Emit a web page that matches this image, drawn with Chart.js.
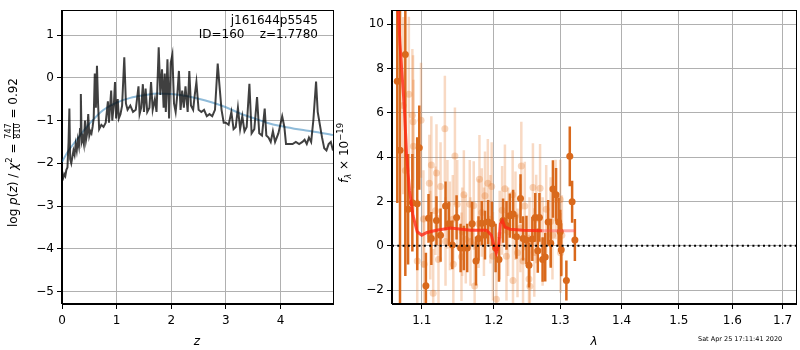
<!DOCTYPE html>
<html>
<head>
<meta charset="utf-8">
<script src="https://cdn.jsdelivr.net/npm/chart.js@4/dist/chart.umd.min.js"></script>
<style>
  body { margin: 0; background: #fff; }
  #wrap { position: relative; width: 800px; height: 350px; font-family: 'DejaVu Sans', sans-serif; color: #000; }
  canvas { position: absolute; top: 0; }
  .lbl { position: absolute; white-space: pre; font-size: 12px; line-height: 14px; font-weight: normal; }
  .rot { transform-origin: 0 0; transform: rotate(-90deg); }
  .ctr { transform: translate(-50%, -50%); }
  .frac { display: inline-block; vertical-align: middle; font-size: 8px; line-height: 8px; text-align: center; margin: 0 1px; }
  .frac span { display: block; }
  .frac span:first-child { border-bottom: 1px solid #000; }
  sup, sub { font-size: 8.5px; line-height: 0; }
</style>
</head>
<body>
<div id="wrap">
  <canvas id="chartPz" width="340" height="350" style="left:0"></canvas>
  <canvas id="chartSpec" width="460" height="350" style="left:340px"></canvas>

  <div class="lbl rot" data-cx="13" data-cy="152">log <i>p</i>(<i>z</i>) / <i>χ</i><sup>2</sup> = <span class="frac"><span>747</span><span>810</span></span> = 0.92</div>
  <div class="lbl ctr" style="left:197px; top:341px"><i>z</i></div>
  <div class="lbl" style="right:482px; top:13px; text-align:right">j161644p5545</div>
  <div class="lbl" style="right:482px; top:27px; text-align:right">ID=160    z=1.7780</div>

  <div class="lbl rot" data-cx="344" data-cy="153"><i>f</i><sub><i>λ</i></sub> × 10<sup>−19</sup></div>
  <div class="lbl ctr" style="left:594px; top:341px"><i>λ</i></div>
  <div class="lbl" style="left:698px; top:335px; font-size:6.5px; line-height:8px">Sat Apr 25 17:11:41 2020</div>
</div>

<script>
// Data p(z) (panel kiri)
const zPdf = [0.00,0.02,0.04,0.06,0.08,0.10,0.12,0.135,0.15,0.17,0.19,0.21,0.23,0.25,0.27,0.29,0.31,0.33,0.345,0.36,
  0.38,0.40,0.42,0.44,0.46,0.48,0.50,0.52,0.54,0.56,0.58,0.60,0.62,0.64,0.66,0.68,0.72,0.76,0.80,0.84,
  0.86,0.90,0.92,0.95,0.97,0.99,1.02,1.04,1.07,1.10,1.14,1.17,1.20,1.25,1.30,1.35,1.40,1.42,1.45,1.48,
  1.50,1.53,1.56,1.60,1.63,1.66,1.70,1.73,1.77,1.80,1.83,1.86,1.88,1.90,1.93,1.96,1.99,2.02,2.05,2.08,
  2.11,2.14,2.17,2.20,2.23,2.26,2.30,2.33,2.36,2.40,2.43,2.46,2.50,2.55,2.60,2.65,2.70,2.75,2.80,2.85,
  2.88,2.92,2.96,3.00,3.05,3.10,3.14,3.18,3.22,3.26,3.30,3.34,3.38,3.43,3.47,3.52,3.57,3.61,3.66,3.71,
  3.74,3.78,3.82,3.86,3.90,3.96,4.03,4.07,4.10,4.16,4.22,4.28,4.34,4.40,4.44,4.48,4.52,4.56,4.60,4.65,
  4.68,4.72,4.76,4.80,4.84,4.88,4.92,4.96];
const logPz = [-2.30,-2.35,-2.25,-2.30,-2.15,-2.10,-1.50,-0.72,-1.90,-2.00,-1.85,-1.70,-1.80,-1.55,-1.70,-1.45,-1.60,-1.20,-0.38,-1.50,
  -1.40,-1.55,-1.00,-1.45,-1.30,-0.85,-1.35,-1.25,-1.30,-1.15,-0.95,0.10,-0.70,0.28,-0.60,-1.20,-1.10,-1.15,-1.05,-0.55,
  -1.05,-0.30,-1.00,-0.60,-0.10,-0.95,-0.50,-0.95,-0.85,-0.65,0.48,-0.60,-0.75,-0.65,-0.80,-0.75,-0.20,-0.85,-0.70,-0.15,
  -0.80,-0.25,-0.80,-0.70,-0.10,-0.75,-0.50,-0.80,0.71,-0.40,0.20,-0.70,0.10,-0.80,0.43,-0.95,0.35,0.54,-0.60,-0.80,
  -0.40,0.16,-0.75,-0.30,-0.70,-0.20,-0.80,0.16,-0.65,-0.75,-0.40,-0.10,-0.75,-0.80,-0.75,-0.90,-0.85,-0.90,-0.75,0.33,
  -0.15,-0.75,-1.05,-1.05,-1.10,-0.80,-1.20,-1.15,-0.70,-1.20,-0.90,-1.25,-1.15,-0.14,-1.30,-1.20,-0.45,-1.30,-1.35,-0.72,
  -1.35,-1.40,-1.50,-1.25,-1.50,-1.30,-0.90,-1.15,-1.55,-1.55,-1.55,-1.50,-1.55,-1.50,-1.45,-1.55,-1.40,-1.50,-1.00,-0.09,
  -0.80,-1.10,-1.40,-1.65,-1.70,-1.55,-1.50,-1.70];

// Kurva prior yang halus (biru)
const zPrior = [0,0.1,0.25,0.5,0.75,1.0,1.25,1.5,1.75,2.0,2.25,2.5,2.75,3.0,3.25,3.5,3.75,4.0,4.25,4.5,4.75,4.96];
const logPrior = [-1.97,-1.74,-1.48,-1.08,-0.76,-0.58,-0.47,-0.41,-0.37,-0.38,-0.42,-0.49,-0.58,-0.69,-0.83,-0.94,-1.05,-1.13,-1.19,-1.24,-1.29,-1.34];

const zTicks = [0, 1, 2, 3, 4];
const pzTicks = [-5, -4, -3, -2, -1, 0, 1];

// Data spektrum (panel kanan)
const darkLam = [1.068,1.0715,1.0784,1.082,1.0876,1.094,1.0967,1.1055,1.109,1.1128,1.1197,1.1252,1.132,1.1366,1.1413,1.1472,1.1528,1.1573,
  1.162,1.1689,1.1744,1.178,1.1826,1.1872,1.1917,1.1972,1.2025,1.2074,1.2134,1.2184,1.2233,1.2282,1.2332,1.2392,1.243,1.2481,
  1.2519,1.257,1.2614,1.2653,1.2678,1.2727,1.2767,1.2812,1.2852,1.2886,1.2935,1.2975,1.30,1.3016,1.3097,1.3151,1.3188,1.3232];
const darkFlux = [7.43,4.31,8.64,1.65,1.94,1.90,4.43,-1.81,1.24,0.33,1.14,0.48,1.80,0.99,0.04,1.28,-0.10,-0.10,
  -0.10,0.99,-0.69,0.33,1.02,0.48,1.07,0.99,-0.10,-0.62,1.14,0.92,1.36,1.43,0.41,2.13,0.33,0.26,
  -0.88,0.31,1.28,-0.22,1.28,-0.62,-0.51,1.07,0.11,2.56,2.31,1.07,0.63,-0.18,-1.57,4.04,1.99,0.26];
const darkErr = [5.5,7.0,10.0,2.5,2.2,3.0,1.9,1.5,1.1,1.2,1.1,1.2,1.1,1.0,1.1,1.0,1.1,1.0,
  1.1,1.0,1.1,1.0,1.0,1.1,1.0,1.0,1.1,1.0,1.0,1.1,1.0,1.1,1.0,1.1,1.0,1.1,
  1.0,1.0,1.1,1.0,1.1,1.0,1.1,1.0,1.1,1.3,1.2,1.1,1.0,1.2,0.9,1.35,0.95,0.95];

const lightLam = [1.0757,1.0784,1.0830,1.0876,1.0885,1.0890,1.094,1.099,1.1022,1.1032,1.1101,1.1114,1.1128,1.1153,1.1183,1.1197,
  1.1224,1.1252,1.1311,1.132,1.1346,1.1380,1.1420,1.1427,1.1449,1.1481,1.1540,1.155,1.1573,1.1600,1.1656,1.1666,1.1712,1.1725,
  1.1780,1.1793,1.1826,1.1857,1.1872,1.1913,1.1950,1.1968,1.1986,1.2036,1.2084,1.2120,1.2161,1.2184,1.2208,1.2275,1.2280,
  1.2317,1.2347,1.2390,1.2404,1.243,1.2456,1.2519,1.2527,1.2532,1.2579,1.2600,1.2629,1.2688,1.2727,1.2782,1.2850,1.2879,
  1.2928,1.30,1.3005,1.3026];
const lightFlux = [6.33,3.40,6.84,5.89,5.60,4.50,-0.69,5.67,1.21,-0.83,2.82,0.48,3.65,-2.15,1.58,3.29,
  -0.62,2.68,5.28,0.19,1.87,0.90,1.20,-0.83,4.05,1.87,-0.50,0.63,2.31,0.30,1.87,0.19,1.82,-1.82,
  1.00,3.00,1.50,0.63,2.26,2.82,1.20,2.68,-0.47,-2.41,0.48,1.60,2.57,-0.47,0.63,2.31,-1.57,
  1.36,-0.32,0.80,3.60,-0.69,1.80,-1.50,0.19,-1.83,2.63,-0.30,1.21,2.60,0.19,1.65,1.10,0.48,
  2.09,2.09,-0.32,0.48];
const lightErr = [4.0,3.5,3.5,3.0,3.0,3.0,2.8,2.6,2.2,2.2,2.2,2.0,2.2,2.0,2.0,2.2,
  2.0,2.0,2.4,2.0,2.0,2.0,2.0,2.0,2.2,2.0,2.0,2.0,2.0,2.0,2.0,2.0,2.0,2.0,
  2.0,2.0,2.0,2.0,2.0,2.0,2.0,2.0,2.0,2.0,2.0,2.0,2.0,2.0,2.0,2.0,2.0,
  2.0,2.0,2.0,2.0,2.0,2.0,2.0,2.0,2.0,2.0,2.0,2.0,2.0,2.0,2.0,2.0,2.0,
  1.8,1.8,1.8,1.8];

// Model (garis merah)
const modelLam = [1.0690,1.0715,1.0770,1.0801,1.0838,1.0885,1.0940,1.1000,1.1069,1.1197,1.1390,1.1666,1.1895,1.1964,1.2010,1.2036,
  1.2070,1.2095,1.2125,1.2160,1.2233,1.2430,1.2722,1.3240];
const modelFlux = [10.8,9.1,6.3,4.1,2.5,1.36,0.63,0.48,0.60,0.70,0.80,0.70,0.70,0.48,-0.10,-0.32,0.04,1.00,1.14,0.85,0.75,0.70,0.68,0.68];

const zeroLam = [1.0612, 1.7278];
const zeroFlux = [0, 0];

const lamTicks = [1.1, 1.2, 1.3, 1.4, 1.5, 1.6, 1.7];
const fluxTicks = [-2, 0, 2, 4, 6, 8, 10];

const toXY = (xs, ys) => xs.map((x, i) => ({ x: x, y: ys[i] }));

// Label vertikal: diputar, lalu dipusatkan di titik (cx, cy) dengan piksel bulat
document.querySelectorAll('.rot').forEach((el) => {
  const w = el.offsetWidth;
  const h = el.offsetHeight;
  el.style.left = Math.round(+el.dataset.cx - h / 2) + 'px';
  el.style.top = Math.round(+el.dataset.cy + w / 2) + 'px';
});

// Error bar digambar pakai skala Chart.js sendiri
const errorBarPlugin = {
  id: 'errorBars',
  beforeDatasetDraw(chart, args) {
    const ds = chart.data.datasets[args.index];
    if (!ds.errors) return;
    const xs = chart.scales.x;
    const ys = chart.scales.y;
    const c = chart.ctx;
    const a = chart.chartArea;
    c.save();
    c.beginPath();
    c.rect(a.left, a.top, a.right - a.left, a.bottom - a.top);
    c.clip();
    c.strokeStyle = ds.errorColor;
    c.lineWidth = 2.5;
    ds.data.forEach((p, i) => {
      const x = xs.getPixelForValue(p.x);
      c.beginPath();
      c.moveTo(x, ys.getPixelForValue(p.y - ds.errors[i]));
      c.lineTo(x, ys.getPixelForValue(p.y + ds.errors[i]));
      c.stroke();
    });
    c.restore();
  }
};

// Bingkai hitam di keempat sisi
const framePlugin = {
  id: 'frame',
  afterDraw(chart) {
    const a = chart.chartArea;
    const c = chart.ctx;
    c.save();
    c.strokeStyle = '#000';
    c.lineWidth = 1;
    c.strokeRect(Math.round(a.left) - 0.5, Math.round(a.top) + 0.5, Math.round(a.right - a.left) + 1, Math.round(a.bottom - a.top) - 1);
    c.restore();
  }
};

const tickFont = { family: 'DejaVu Sans', size: 12 };

function axisOpts(min, max, ticks, fitKey, fitSize, type) {
  return {
    type: type || 'linear',
    min: min,
    max: max,
    afterBuildTicks: (scale) => { scale.ticks = ticks.map((v) => ({ value: v })); },
    afterFit: (scale) => { scale[fitKey] = fitSize; },
    grid: { color: '#b0b0b0', lineWidth: 1, tickColor: '#000', tickLength: 5 },
    border: { color: '#000', width: 1 },
    ticks: {
      font: tickFont,
      color: '#000',
      padding: fitKey === 'height' ? 5 : 3,
      autoSkip: false,
      maxRotation: 0,
      callback: (v) => (v < 0 ? '\u2212' + Math.abs(v) : String(v))
    }
  };
}

Chart.defaults.font.family = 'DejaVu Sans';
Chart.defaults.devicePixelRatio = 1;

// Panel kiri: log p(z)
const ctx = document.getElementById('chartPz').getContext('2d');
const pzChart = new Chart(ctx, {
  type: 'scatter',
  data: {
    datasets: [
      {
        data: toXY(zPdf, logPz),
        showLine: true,
        borderColor: 'rgba(0,0,0,0.75)',
        borderWidth: 2,
        pointRadius: 0
      },
      {
        data: toXY(zPrior, logPrior),
        showLine: true,
        borderColor: 'rgba(31,119,180,0.5)',
        borderWidth: 2,
        pointRadius: 0,
        cubicInterpolationMode: 'monotone'
      }
    ]
  },
  options: {
    responsive: false,
    animation: false,
    layout: { padding: { top: 1, right: 7, bottom: 0, left: 0 } },
    plugins: { legend: { display: false }, tooltip: { enabled: false } },
    scales: {
      x: axisOpts(0, 4.96, zTicks, 'height', 46),
      y: axisOpts(-5.29, 1.58, pzTicks, 'width', 62)
    }
  },
  plugins: [framePlugin]
});

// Panel kanan: spektrum
const ctx2 = document.getElementById('chartSpec').getContext('2d');
const xSpec = axisOpts(zeroLam[0], zeroLam[1], lamTicks, 'height', 46, 'logarithmic');
xSpec.ticks.callback = (v) => v.toFixed(1);
const specChart = new Chart(ctx2, {
  type: 'scatter',
  data: {
    datasets: [
      {
        data: toXY(zeroLam, zeroFlux),
        showLine: true,
        borderColor: '#000',
        borderWidth: 2,
        borderDash: [2, 3.3],
        pointRadius: 0
      },
      {
        data: toXY(modelLam, modelFlux),
        showLine: true,
        borderColor: 'rgba(255,40,20,0.8)',
        borderWidth: 3,
        pointRadius: 0,
        segment: {
          borderColor: (c) => (c.p0.parsed.x >= 1.27 ? 'rgba(255,70,70,0.45)' : undefined)
        }
      },
      {
        data: toXY(darkLam, darkFlux),
        errors: darkErr,
        errorColor: 'rgb(217,105,28)',
        pointRadius: 3.5,
        pointBackgroundColor: 'rgb(217,105,28)',
        pointBorderWidth: 0
      },
      {
        data: toXY(lightLam, lightFlux),
        errors: lightErr,
        errorColor: 'rgba(230,120,40,0.28)',
        pointRadius: 3.5,
        pointBackgroundColor: 'rgba(230,120,40,0.3)',
        pointBorderWidth: 0
      }
    ]
  },
  options: {
    responsive: false,
    animation: false,
    layout: { padding: { top: 1, right: 2, bottom: 0, left: 0 } },
    plugins: { legend: { display: false }, tooltip: { enabled: false } },
    scales: {
      x: xSpec,
      y: axisOpts(-2.63, 10.64, fluxTicks, 'width', 52)
    }
  },
  plugins: [errorBarPlugin, framePlugin]
});
</script>
</body>
</html>
